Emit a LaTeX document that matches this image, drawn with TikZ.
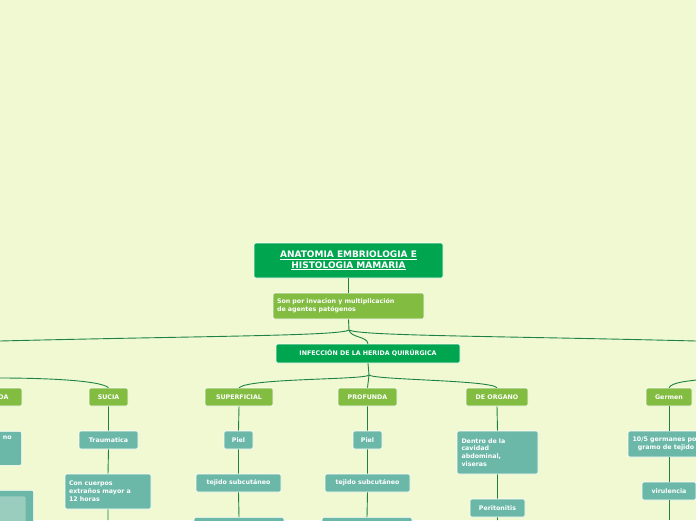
\documentclass[tikz,border=0pt]{standalone}
\usepackage{fontspec}
\setmainfont{DejaVu Sans}
\definecolor{cdk}{RGB}{0,165,80}
\definecolor{clg}{RGB}{130,188,65}
\definecolor{ctl}{RGB}{107,184,168}
\definecolor{cln}{RGB}{30,130,70}
\definecolor{cbg}{RGB}{240,249,210}
\definecolor{cpl}{RGB}{155,205,190}
\begin{document}
\begin{tikzpicture}[x=1pt,y=-1pt,
  every node/.style={font=\bfseries\fontsize{6.3}{7.9}\selectfont,text=white,rounded corners=2pt,draw=white,line width=0.6pt,inner sep=0pt},
  dk/.style={fill=cdk},
  lg/.style={fill=clg},
  tl/.style={fill=ctl},
  ln/.style={draw=cln,line width=0.9pt}]
\fill[cbg] (0,0) rectangle (696,520);
\clip (0,0) rectangle (696,520);
\useasboundingbox (0,0) rectangle (696,520);
% boxes
\node[dk,minimum width=189,minimum height=35,align=center,font=\bfseries\fontsize{9}{10.5}\selectfont] (t) at (348.5,260.5) {\underline{ANATOMIA EMBRIOLOGIA E}\\\underline{HISTOLOGIA MAMARIA}};
\node[lg,minimum width=151,minimum height=26,align=left,text width=143] (s) at (348.5,306) {Son por invacion y multiplicación\\de agentes patógenos};
\node[dk,minimum width=184,minimum height=19] (i) at (368,353.5) {INFECCIÓN DE LA HERIDA QUIRÚRGICA};
\node[lg,minimum width=50,minimum height=18] (a) at (-3,397) {\hspace*{8pt}ADA};
\node[lg,minimum width=39,minimum height=18] (b) at (108.5,397) {SUCIA};
\node[lg,minimum width=68,minimum height=18] (c) at (239,397) {SUPERFICIAL};
\node[lg,minimum width=59,minimum height=18] (d) at (367.5,397) {PROFUNDA};
\node[lg,minimum width=62,minimum height=18] (e) at (497,397) {DE ORGANO};
\node[lg,minimum width=46,minimum height=18] (f) at (669,397) {Germen};
\node[tl,minimum width=50,minimum height=34,anchor=north east] (a1) at (22,431) {};
\node[anchor=north east,draw=none] at (12,436) {no};
\node[tl,minimum width=59,minimum height=18] (b1) at (108.5,440) {Traumatica};
\node[tl,minimum width=86,minimum height=35,align=left,text width=78] (b2) at (108,491.5) {Con cuerpos\\extraños mayor a\\12 horas};
\node[tl,minimum width=29,minimum height=18] (c1) at (238.5,440) {Piel};
\node[tl,minimum width=85,minimum height=18] (c2) at (238.5,483) {tejido subcutáneo};
\node[tl,minimum width=90,minimum height=14,anchor=north] (c3) at (239,517) {};
\node[tl,minimum width=29,minimum height=18] (d1) at (367.5,440) {Piel};
\node[tl,minimum width=85,minimum height=18] (d2) at (367.5,483) {tejido subcutáneo};
\node[tl,minimum width=90,minimum height=14,anchor=north] (d3) at (367,517) {};
\node[tl,minimum width=81,minimum height=43,align=left,text width=72] (e1) at (497.5,452.5) {Dentro de la\\cavidad\\abdominal,\\viseras};
\node[tl,minimum width=55,minimum height=18] (e2) at (497.5,508) {Peritonitis};
\node[tl,minimum width=76,minimum height=26,align=center] (f1) at (666,444) {10/5 germanes por\\gramo de tejido};
\node[tl,minimum width=54,minimum height=18] (f2) at (669,491) {virulencia};
\node[tl,minimum width=40,minimum height=34,anchor=north east] (a2) at (34,490) {};
\node[fill=cpl,draw=none,minimum width=30,minimum height=30,anchor=north east] at (26,496) {};
% connectors
\draw[ln] (t.south) -- (s.north);
\coordinate (sb) at (349,330);
\draw[ln] (s.south) -- (sb);
\draw[ln] (sb) .. controls (340,336) and (200,336) .. (0,341);
\draw[ln] (sb) .. controls (360,336) and (500,336) .. (696,341);
\draw[ln] (sb) .. controls (351,338) and (367,336) .. (i.north);
\coordinate (ib) at (369,375);
\draw[ln] (i.south) -- (ib);
\draw[ln] (ib) .. controls (365,380) and (250,378) .. (c.north);
\draw[ln] (ib) -- (d.north);
\draw[ln] (ib) .. controls (375,380) and (490,380) .. (e.north);
\draw[ln] (f.north) .. controls (672,382) and (690,381) .. (696,380);
\coordinate (lb) at (0,378);
\draw[ln] (lb) .. controls (40,378) and (100,380) .. (b.north);
\draw[ln] (b.south)--(b1.north) (b1.south)--(b2.north) (b2.south)--(108,520);
\draw[ln] (c.south)--(c1.north) (c1.south)--(c2.north) (c2.south)--(c3.north);
\draw[ln] (d.south)--(d1.north) (d1.south)--(d2.north) (d2.south)--(d3.north);
\draw[ln] (e.south)--(e1.north) (e1.south)--(e2.north) (e2.south)--(497.5,520);
\draw[ln] (f.south)--(669,431) (669,457)--(f2.north) (f2.south)--(669,520);
\end{tikzpicture}
\end{document}
